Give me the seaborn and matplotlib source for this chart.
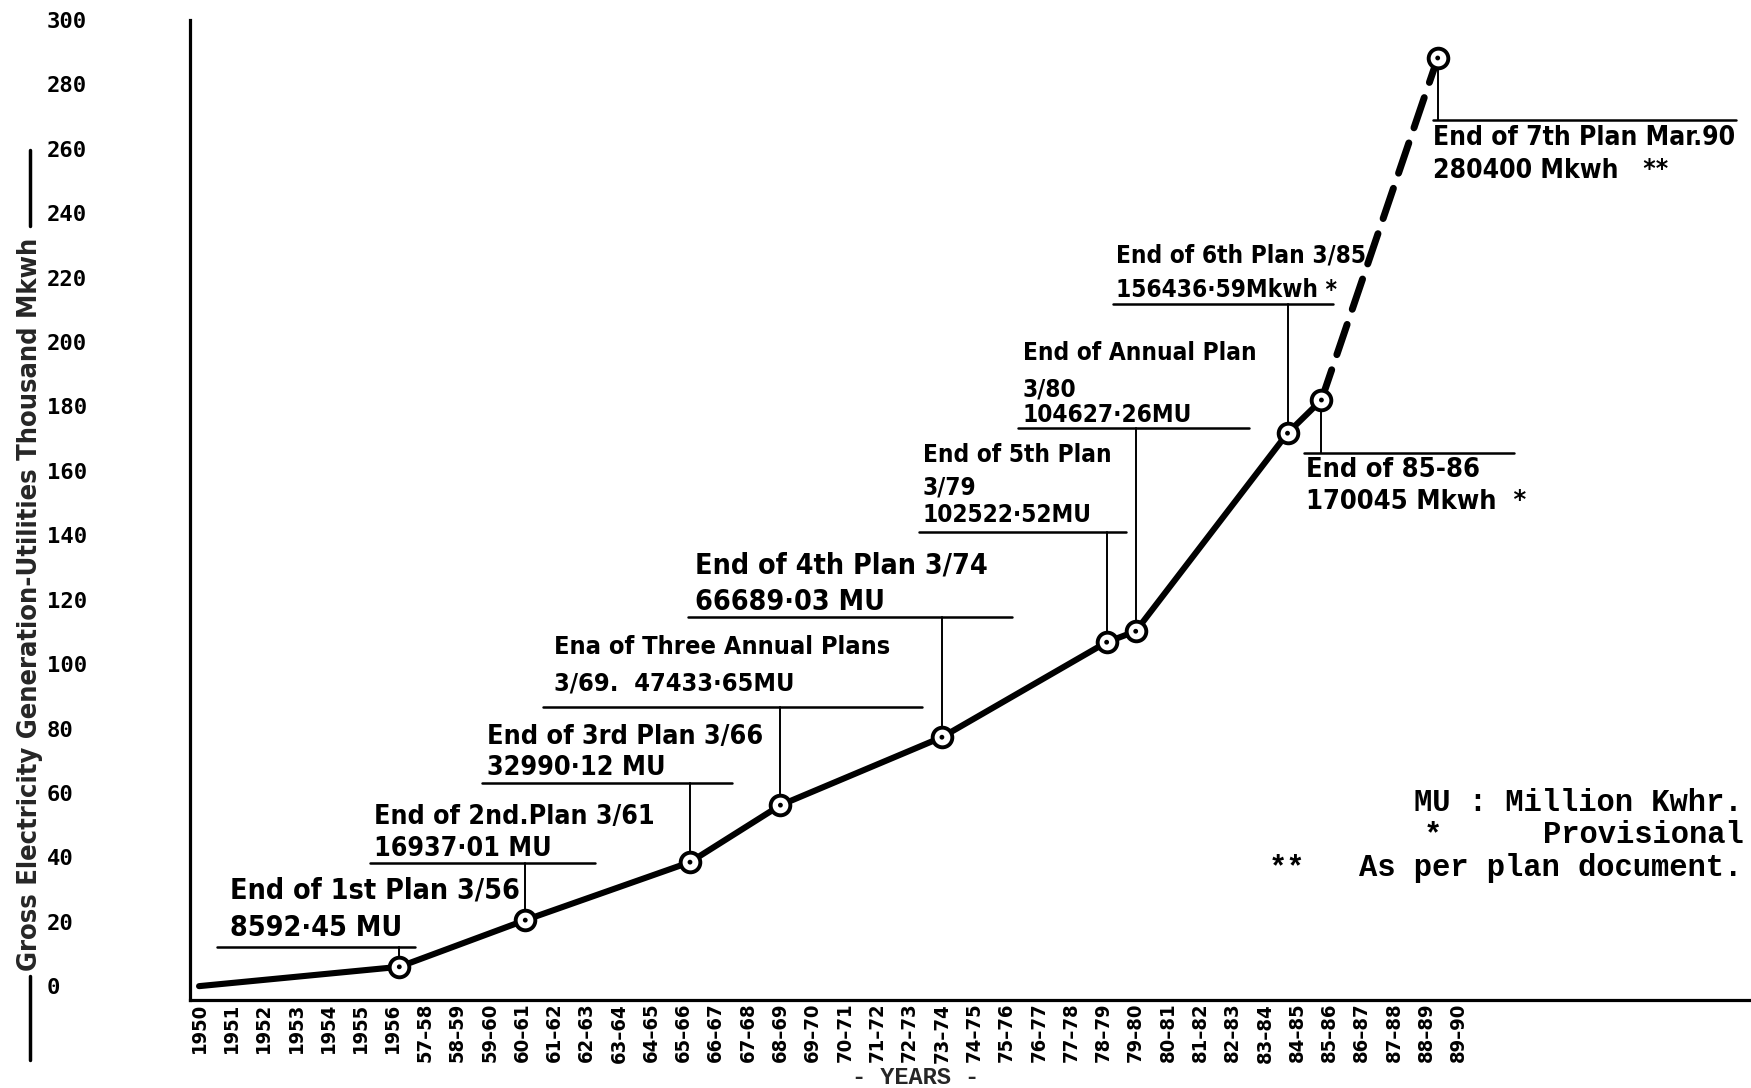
import matplotlib
matplotlib.use("Agg")
import matplotlib.pyplot as plt
import seaborn as sns
import pandas as pd
from matplotlib.lines import Line2D

W, H = 1751, 1088

# -----------------------------
# Data
# -----------------------------
year_labels = ["1950", "1951", "1952", "1953", "1954", "1955", "1956"] + \
    [f"{y}–{y + 1}" for y in range(57, 90)]

# position on the year axis (category index) and generation, thousand Mkwh
point_x = [0, 6.2, 10.1, 15.2, 18, 23, 28.1, 29, 33.7, 34.75, 38.35]
point_y = [0, 6, 20.5, 38.5, 56.2, 77.3, 106.8, 110.2, 171.7, 182, 288.2]
n_actual = 10  # points up to 85-86 are drawn solid, the rest dashed

note_texts = [
    ["End of 1st Plan 3/56", "8592·45 MU"],
    ["End of 2nd.Plan 3/61", "16937·01 MU"],
    ["End of 3rd Plan 3/66", "32990·12 MU"],
    ["Ena of Three Annual Plans", "3/69.  47433·65MU"],
    ["End of 4th Plan 3/74", "66689·03 MU"],
    ["End of 5th Plan", "3/79", "102522·52MU"],
    ["End of Annual Plan", "3/80", "104627·26MU"],
    ["End of 6th Plan 3/85", "156436·59Mkwh *"],
    ["End of 85-86", "170045 Mkwh  *"],
    ["End of 7th Plan Mar.90", "280400 Mkwh   **"],
]

# label layout: underline x0, x1, underline y (data units), text x,
# line offsets (px), font size
note_layout = [
    (0.56, 6.69, 12.1, 0.96, [57, 19], 20.5),
    (5.29, 12.26, 38.2, 5.42, [46, 14], 19.2),
    (8.76, 16.5, 63.0, 8.92, [46, 15], 19.4),
    (10.65, 22.38, 86.6, 11.0, [60, 24], 18.2),
    (15.14, 25.17, 114.6, 15.36, [52, 15], 20.5),
    (22.3, 28.7, 141.0, 22.4, [77, 45, 17], 17.5),
    (25.36, 32.5, 173.3, 25.5, [75, 39, 13], 17.5),
    (28.3, 35.1, 211.8, 28.4, [49, 14], 17.5),
    (34.2, 40.7, 165.5, 34.27, [-17, -49], 19.5),
    (38.2, 47.6, 269.0, 38.2, [-18, -51], 19),
]

df = pd.DataFrame({"x": point_x, "y": point_y})

# -----------------------------
# Figure
# -----------------------------
sns.set_theme(style="white")
plt.rcParams["font.family"] = ["DejaVu Sans"]

fig = plt.figure(figsize=(W / 100, H / 100), dpi=100)
ax = fig.add_axes([190 / W, 1 - 1000 / H, (W - 190) / W, 980 / H])

sns.lineplot(data=df.iloc[:n_actual], x="x", y="y", color="black", lw=4.4,
             solid_capstyle="round", solid_joinstyle="round", ax=ax, zorder=3)
sns.lineplot(data=df.iloc[n_actual - 1:], x="x", y="y", color="black", lw=5,
             linestyle=(0, (4.6, 2.3)), dash_capstyle="round", ax=ax, zorder=3)

circ = df.iloc[1:]
sns.scatterplot(data=circ, x="x", y="y", s=200, color="white", edgecolor="black",
                linewidth=2.8, ax=ax, zorder=5)
sns.scatterplot(data=circ, x="x", y="y", s=12, color="black", edgecolor="none",
                linewidth=0, ax=ax, zorder=6)

# notes with underline and leader
for i, (texts, lay) in enumerate(zip(note_texts, note_layout)):
    x0, x1, yl, xt, offs, fs = lay
    px, py = point_x[i + 1], point_y[i + 1]
    ax.plot([x0, x1], [yl, yl], color="black", lw=1.8, zorder=2)
    ax.plot([px, px], [py, yl], color="black", lw=1.4, zorder=2)
    for t, dy in zip(texts, offs):
        ax.annotate(t, xy=(xt, yl), xytext=(0, dy), textcoords="offset pixels",
                    ha="left", va="center", fontsize=fs, fontweight="bold",
                    fontstretch="condensed", color="black")

# axes
ax.set_xlim(-0.28, 48.05)
ax.set_ylim(-4.3, 300)
ax.set_xticks(range(len(year_labels)))
ax.set_xticklabels(year_labels, rotation=90, fontsize=14.5, fontweight="bold",
                   fontstretch="condensed")
ax.set_yticks(range(0, 301, 20))
ax.tick_params(axis="x", length=0, pad=2, colors="black")
ax.tick_params(axis="y", length=0, pad=103, colors="black")
for lab in ax.get_yticklabels():
    lab.set_ha("left")
    lab.set_family("DejaVu Sans Mono")
    lab.set_weight("bold")
    lab.set_fontsize(16)
ax.set_xlabel("")
ax.set_ylabel("")
ax.grid(False)
sns.despine(ax=ax)
for s in ("left", "bottom"):
    ax.spines[s].set_linewidth(2.3)
    ax.spines[s].set_color("black")

# y label with rules on both ends
fig.text(30 / W, 1 - 604 / H, "Gross Electricity Generation-Utilities Thousand Mkwh",
         rotation=90, ha="center", va="center", fontsize=19.5, fontweight="bold",
         fontstretch="condensed")
for y0, y1 in [(150, 226), (976, 1060)]:
    fig.add_artist(Line2D([30 / W, 30 / W], [1 - y0 / H, 1 - y1 / H],
                          color="black", lw=2.5))

fig.text(916 / W, 1 - 1077 / H, "- YEARS -", ha="center", va="center",
         family="Liberation Mono", fontweight="bold", fontsize=17)

# key
mono = dict(family="Liberation Mono", fontsize=22, fontweight="bold",
            va="center", color="black")
fig.text(1742 / W, 1 - 803 / H, "MU : Million Kwhr.", ha="right", **mono)
fig.text(1433 / W, 1 - 835 / H, "*", ha="center", **mono)
fig.text(1744 / W, 1 - 835 / H, "Provisional", ha="right", **mono)
fig.text(1287 / W, 1 - 868 / H, "**", ha="center", **mono)
fig.text(1742 / W, 1 - 868 / H, "As per plan document.", ha="right", **mono)

plt.savefig("out.png", dpi=100)
plt.close()
